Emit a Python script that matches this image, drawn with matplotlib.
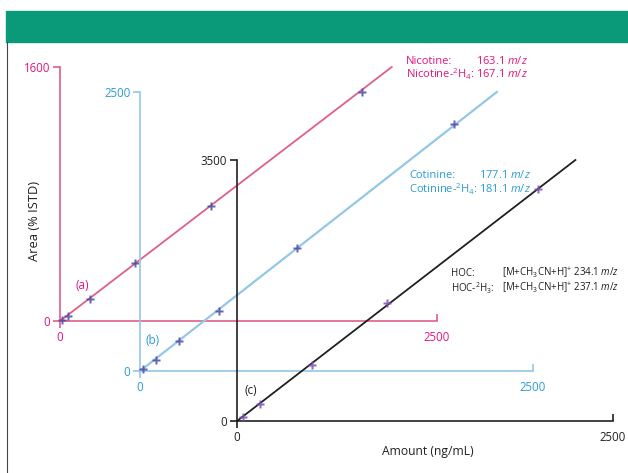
import matplotlib.pyplot as plt
from matplotlib.patches import Rectangle
from matplotlib.lines import Line2D
import numpy as np

plt.rcParams['font.family'] = ['Open Sans', 'DejaVu Sans']
plt.rcParams['mathtext.fontset'] = 'custom'
plt.rcParams['mathtext.rm'] = 'Open Sans'
plt.rcParams['mathtext.it'] = 'Open Sans:italic'

# dados
# (a) nicotina
nic_x = [10, 50, 200, 500, 1000, 2000]
nic_y = [7, 30, 140, 363, 724, 1441]
nic_fit_x = [0, 2200]
nic_fit_y = [0, 1600]
# (b) cotinina
cot_x = [20, 100, 250, 500, 1000, 2000]
cot_y = [20, 100, 265, 535, 1102, 2213]
cot_fit_x = [0, 2270]
cot_fit_y = [0, 2500]
# (c) HOC
hoc_x = [40, 150, 500, 1000, 2000]
hoc_y = [55, 233, 750, 1581, 3109]
hoc_fit_x = [0, 2250]
hoc_fit_y = [0, 3500]

x_max = 2500
y_max = [1600, 2500, 3500]

W, H = 628, 473
pink = '#df5f89'
pink_txt = '#e5137f'
blue = '#94c7e7'
blue_txt = '#2a9bd8'
black = '#231f20'
mk = '#4a4aa8'

fig = plt.figure(figsize=(W/100, H/100), dpi=100)

# faixa verde do topo
fig.patches.append(Rectangle((6/W, 1-42/H), 1-6/W, 31/H, transform=fig.transFigure,
                             color='#0a9a7a', zorder=0))
fig.lines.append(Line2D([6.5/W, 6.5/W], [0, 1-42/H], transform=fig.transFigure,
                        color='#444444', lw=0.8))


def make_axes(l, r, t, b, ymax, col, txtcol):
    ax = fig.add_axes([l/W, 1-b/H, (r-l)/W, (b-t)/H])
    ax.patch.set_alpha(0)
    ax.set_xlim(0, x_max)
    ax.set_ylim(0, ymax)
    for s in ['top', 'right']:
        ax.spines[s].set_visible(False)
    for s in ['left', 'bottom']:
        ax.spines[s].set_color(col)
        ax.spines[s].set_linewidth(1.2)
    ax.set_xticks([0])
    ax.set_xticklabels(['0'])
    ax.set_xticks([x_max], minor=True)
    ax.set_xticklabels([str(x_max)], minor=True)
    ax.set_yticks([0, ymax])
    ax.set_yticklabels(['0', str(ymax)])
    ax.tick_params(which='major', direction='out', length=5, width=1.2, color=col,
                   labelcolor=txtcol, labelsize=8.3, pad=2)
    ax.tick_params(axis='x', which='minor', direction='in', length=5, width=1.2, color=col,
                   labelcolor=txtcol, labelsize=8.3, pad=7)
    return ax


ax1 = make_axes(60, 437, 67, 321, y_max[0], pink, pink_txt)
ax1.plot(nic_fit_x, nic_fit_y, color=pink, lw=1.3, clip_on=False)
ax1.plot(nic_x, nic_y, 'P', color=mk, ms=6, alpha=0.85, mec='none', clip_on=False, zorder=5)

ax2 = make_axes(140, 533, 92, 371, y_max[1], blue, blue_txt)
ax2.plot(cot_fit_x, cot_fit_y, color=blue, lw=1.6, clip_on=False)
ax2.plot(cot_x, cot_y, 'P', color=mk, ms=6, alpha=0.85, mec='none', clip_on=False, zorder=5)

ax3 = make_axes(237, 613, 160, 421, y_max[2], black, black)
ax3.plot(hoc_fit_x, hoc_fit_y, color=black, lw=1.3, clip_on=False)
ax3.plot(hoc_x, hoc_y, 'P', color='#7a4fb0', ms=6, alpha=0.85, mec='none', clip_on=False, zorder=5)


def ftxt(x, y, s, size=8, **kw):
    fig.text(x/W, 1-y/H, s, va='center', fontsize=size, **kw)


ftxt(75, 285, '(a)', size=8.5, color=pink_txt)
ftxt(146, 341, '(b)', size=8.5, color=blue_txt)
ftxt(244, 390, '(c)', size=8.5, color=black)

ftxt(406, 61, 'Nicotine:', color=pink_txt)
ftxt(476, 61, r'163.1 $\it{m/z}$', color=pink_txt)
ftxt(406, 74, r'Nicotine-$^{2}$H$_{4}$:', color=pink_txt)
ftxt(476, 74, r'167.1 $\it{m/z}$', color=pink_txt)

ftxt(409, 175, 'Cotinine:', color=blue_txt)
ftxt(479, 175, r'177.1 $\it{m/z}$', color=blue_txt)
ftxt(409, 189, r'Cotinine-$^{2}$H$_{4}$:', color=blue_txt)
ftxt(479, 189, r'181.1 $\it{m/z}$', color=blue_txt)

ftxt(451, 273, 'HOC:', size=7, color=black)
ftxt(502, 273, r'[M+CH$_{3}$CN+H]$^{+}$ 234.1 $\it{m/z}$', size=7, color=black)
ftxt(451, 288, r'HOC-$^{2}$H$_{3}$:', size=7, color=black)
ftxt(502, 288, r'[M+CH$_{3}$CN+H]$^{+}$ 237.1 $\it{m/z}$', size=7, color=black)

fig.text(35/W, 1-221/H, 'Area (% ISTD)', rotation=90, ha='center', va='center',
         fontsize=9.3, color=black)
fig.text(428/W, 1-451/H, 'Amount (ng/mL)', ha='center', va='center',
         fontsize=8.7, color=black)

fig.savefig('out.png', dpi=100)
